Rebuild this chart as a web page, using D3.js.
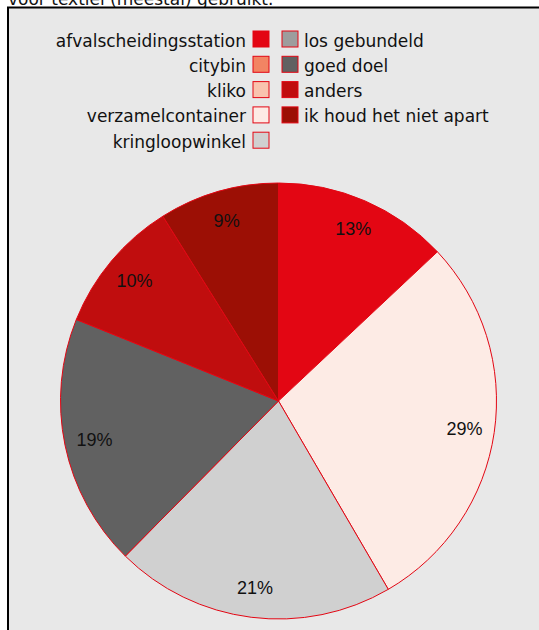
<!DOCTYPE html>
<html lang="nl">
  <head>
    <meta charset="UTF-8" />
    <title>textiel</title>
    <script src="https://cdn.jsdelivr.net/npm/d3@7"></script>
    <style>
      html, body { margin: 0; padding: 0; background: #fff; }
      svg { display: block; }
    </style>
  </head>
  <body>
    <svg width="539" height="630"></svg>
  </body>

  <script>
    // categorieen in volgorde van de legenda / taartpunten
    var categories = [
      'afvalscheidingsstation',
      'citybin',
      'kliko',
      'verzamelcontainer',
      'kringloopwinkel',
      'los gebundeld',
      'goed doel',
      'anders',
      'ik houd het niet apart'
    ];
    var values = [13.0, 0, 0, 28.6, 20.8, 0, 18.7, 10.0, 8.9];
    var colors = ['#e30613', '#f28463', '#f9c3ae', '#fdebe5', '#d0d0d0', '#9d9d9d', '#616161', '#c00d0e', '#9c0f05'];
    var title = 'voor textiel (meestal) gebruikt.';

    var svg = d3.select('svg');
    var font = '"DejaVu Sans", Verdana, sans-serif';

    // titel (bovenkant valt buiten beeld)
    svg.append('text')
      .attr('x', 8)
      .attr('y', 4.5)
      .attr('font-family', font)
      .attr('font-size', 17)
      .attr('fill', '#111')
      .text(title);

    // paneel
    svg.append('rect')
      .attr('x', 8)
      .attr('y', 7.5)
      .attr('width', 620)
      .attr('height', 700)
      .attr('fill', '#e8e8e8')
      .attr('stroke', '#000')
      .attr('stroke-width', 2);

    // legenda: twee kolommen
    var rowH = 25.3;
    var legTop = 31;
    var sw = 16;
    var leftItems = d3.range(0, 5);
    var rightItems = d3.range(5, 9);

    var legL = svg.append('g');
    leftItems.forEach(function (idx, i) {
      var y = legTop + i * rowH;
      legL.append('rect')
        .attr('x', 253)
        .attr('y', y)
        .attr('width', sw)
        .attr('height', sw)
        .attr('fill', colors[idx])
        .attr('stroke', '#e30613')
        .attr('stroke-width', 1);
      legL.append('text')
        .attr('x', 246)
        .attr('y', y + 15.5)
        .attr('text-anchor', 'end')
        .attr('font-family', font)
        .attr('font-size', 17)
        .attr('fill', '#111')
        .text(categories[idx]);
    });

    var legR = svg.append('g');
    rightItems.forEach(function (idx, i) {
      var y = legTop + i * rowH;
      legR.append('rect')
        .attr('x', 282)
        .attr('y', y)
        .attr('width', sw)
        .attr('height', sw)
        .attr('fill', colors[idx])
        .attr('stroke', '#e30613')
        .attr('stroke-width', 1);
      legR.append('text')
        .attr('x', 304)
        .attr('y', y + 15.5)
        .attr('font-family', font)
        .attr('font-size', 17)
        .attr('fill', '#111')
        .text(categories[idx]);
    });

    // taart
    var cx = 278.5, cy = 401, radius = 218;
    var total = d3.sum(values);

    var pie = d3.pie().sort(null).value(function (d) { return d; });
    var arc = d3.arc().innerRadius(0).outerRadius(radius);
    var labelArc = d3.arc().innerRadius(188).outerRadius(188);

    var arcs = pie(values).map(function (a, i) {
      a.color = colors[i];
      return a;
    }).filter(function (a) { return a.value > 0; });

    var g = svg.append('g').attr('transform', 'translate(' + cx + ',' + cy + ')');

    g.selectAll('path')
      .data(arcs)
      .enter()
      .append('path')
      .attr('d', arc)
      .attr('fill', function (d) { return d.color; })
      .attr('stroke', '#e30613')
      .attr('stroke-width', 1)
      .attr('stroke-linejoin', 'round');

    g.selectAll('text.lbl')
      .data(arcs)
      .enter()
      .append('text')
      .attr('class', 'lbl')
      .attr('transform', function (d) {
        return 'translate(' + labelArc.centroid(d) + ')';
      })
      .attr('text-anchor', 'middle')
      .attr('dy', '0.36em')
      .attr('font-family', '"Liberation Sans", Arial, sans-serif')
      .attr('font-size', 18)
      .attr('fill', '#111')
      .text(function (d) {
        return Math.round(d.value / total * 100) + '%';
      });
  </script>
</html>
